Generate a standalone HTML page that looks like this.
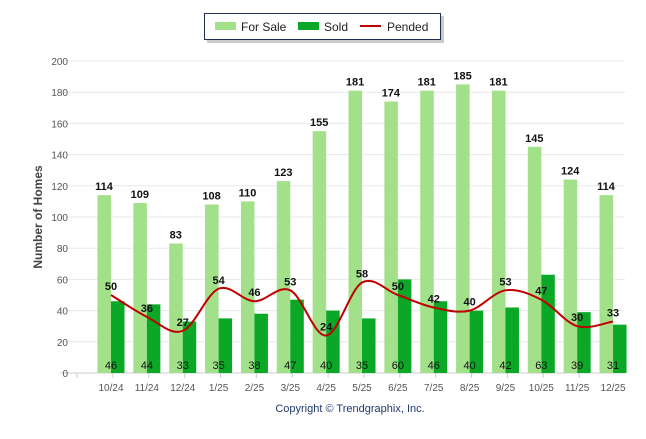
<!DOCTYPE html>
<html><head><meta charset="utf-8"><style>
body{margin:0;background:#fff;font-family:"Liberation Sans",Arial,sans-serif;}
svg text{font-family:"Liberation Sans",Arial,sans-serif;}
</style></head><body>
<svg id="chart" width="646" height="434">
<g>
<rect x="207" y="16" width="237" height="27" fill="#999" opacity="0.5"/>
<rect x="204.5" y="13.5" width="236" height="26" fill="#fff" stroke="#1f2f55" stroke-width="1"/>
<rect x="215" y="22" width="21" height="8" fill="#a2e08a"/>
<text x="241" y="31" font-size="12" fill="#222">For Sale</text>
<rect x="298" y="22" width="21" height="8" fill="#0aa826"/>
<text x="324" y="31" font-size="12" fill="#222">Sold</text>
<line x1="360" y1="26" x2="381" y2="26" stroke="#c00000" stroke-width="2"/>
<text x="387" y="31" font-size="12" fill="#222">Pended</text>
</g>
<g id="grid"></g><g id="bars"></g><g id="line"></g><g id="labels"></g>
<text transform="translate(42,217) rotate(-90)" text-anchor="middle" font-size="12" font-weight="bold" fill="#444">Number of Homes</text>
<text x="350" y="412" text-anchor="middle" font-size="11" fill="#1f3a6e">Copyright © Trendgraphix, Inc.</text>
</svg>
<script>
const categories=["10/24","11/24","12/24","1/25","2/25","3/25","4/25","5/25","6/25","7/25","8/25","9/25","10/25","11/25","12/25"];
const forSale=[114,109,83,108,110,123,155,181,174,181,185,181,145,124,114];
const sold=[46,44,33,35,38,47,40,35,60,46,40,42,63,39,31];
const pended=[50,36,27,54,46,53,24,58,50,42,40,53,47,30,33];
const yTicks=[0,20,40,60,80,100,120,140,160,180,200];
const NS="http://www.w3.org/2000/svg";
const x=i=>111+35.86*i;
const y=v=>373-v*1.56;
function mk(tag,attrs,parent,txt){const e=document.createElementNS(NS,tag);for(const k in attrs)e.setAttribute(k,attrs[k]);if(txt!==undefined)e.textContent=txt;document.getElementById(parent).appendChild(e);return e;}
yTicks.forEach(t=>{
 const l=mk('line',{x1:60,x2:625,y1:y(t),y2:y(t),stroke:t===0?'#ccc':'#e8e8e8','stroke-width':1},'grid');
 
 
 const tx=mk('text',{x:68,y:y(t)+4,'text-anchor':'end','font-size':10,fill:'#555'},'grid',t);
 
 
});
categories.forEach((c,i)=>{
 const tk=mk('line',{x1:x(i)-35.86/2-16,x2:x(i)-35.86/2-16,y1:373,y2:378,stroke:'#ccc'},'grid');
 
 
 const tx=mk('text',{x:x(i),y:391,'text-anchor':'middle','font-size':10,fill:'#555'},'grid',c);
 
 
 const b1=mk('rect',{x:x(i)-13.5,y:y(forSale[i]),width:13.5,height:373-y(forSale[i]),fill:'#a2e08a'},'bars');
 
 
 const b2=mk('rect',{x:x(i),y:y(sold[i]),width:13.5,height:373-y(sold[i]),fill:'#0aa826'},'bars');
 
 
 const l1=mk('text',{x:x(i)-7,y:y(forSale[i])-5,'text-anchor':'middle','font-size':11,'font-weight':'bold',fill:'#111'},'labels',forSale[i]);
 
 
 const l2=mk('text',{x:x(i),y:369,'text-anchor':'middle','font-size':11,fill:'#111'},'labels',sold[i]);
 
 
 const l3=mk('text',{x:x(i),y:y(pended[i])-5,'text-anchor':'middle','font-size':11,'font-weight':'bold',fill:'#111'},'labels',pended[i]);
 
 
});
const pts=pended.map((v,i)=>[x(i),y(v)]);
let d='M'+pts[0][0]+','+pts[0][1];
for(let i=0;i<pts.length-1;i++){
 const p0=pts[Math.max(i-1,0)],p1=pts[i],p2=pts[i+1],p3=pts[Math.min(i+2,pts.length-1)];
 const c1=[p1[0]+(p2[0]-p0[0])/6,p1[1]+(p2[1]-p0[1])/6];
 const c2=[p2[0]-(p3[0]-p1[0])/6,p2[1]-(p3[1]-p1[1])/6];
 d+=' C'+c1+' '+c2+' '+p2;
}
const pl=mk('path',{d:d,fill:'none',stroke:'#c00000','stroke-width':2},'line');


</script>
</body></html>
